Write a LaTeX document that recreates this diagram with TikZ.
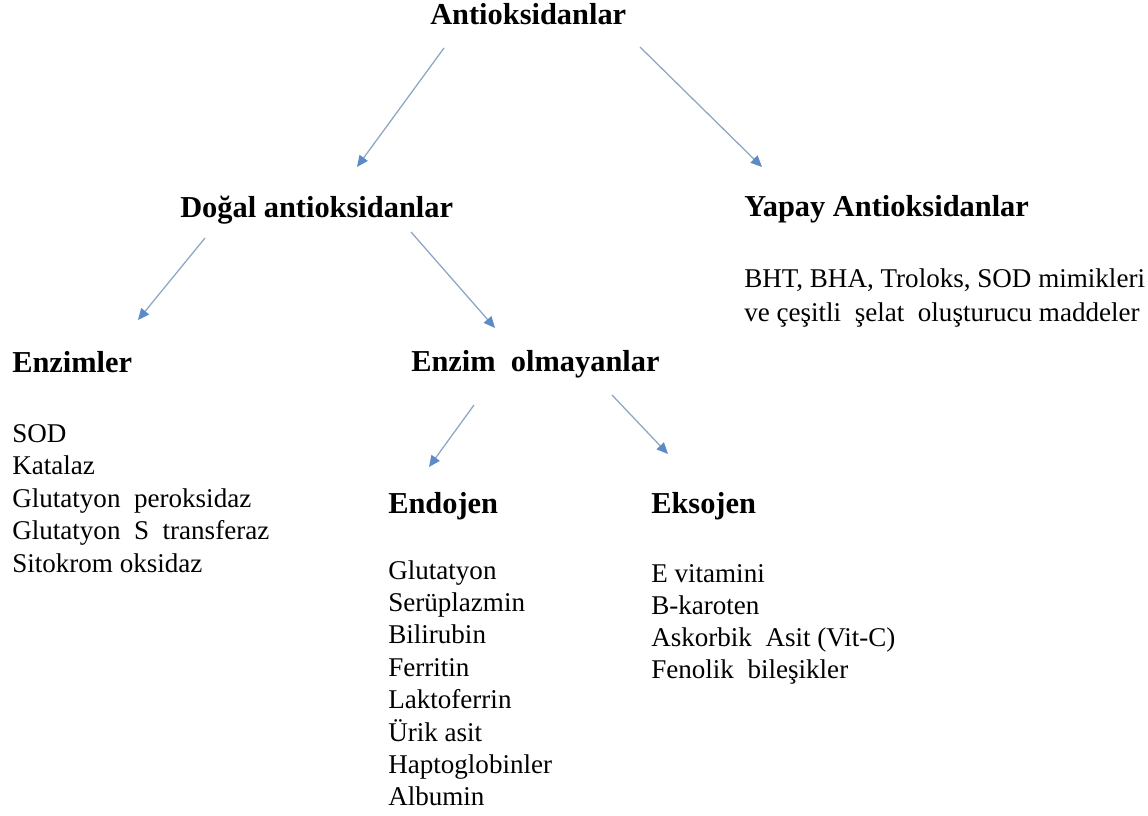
\documentclass[tikz,border=0pt]{standalone}
\usepackage{fontspec}
\setmainfont{Liberation Serif}
\usetikzlibrary{arrows.meta}
\definecolor{arrline}{HTML}{8CA6C6}
\definecolor{arrhead}{HTML}{5B8AC6}
\tikzset{
  head/.style={anchor=base west,inner sep=0pt,font=\fontsize{22.8}{27}\selectfont\bfseries},
  item/.style={anchor=base west,inner sep=0pt,font=\fontsize{20.3}{24}\selectfont},
  arr/.style={draw=arrline,line width=0.95pt,-{Triangle[length=8.5pt,width=7.5pt,color=arrhead]}}
}
\begin{document}
\begin{tikzpicture}[x=0.75pt,y=-0.75pt]
\useasboundingbox (0,0) rectangle (1148,816);
\node[head] (anti) at (430,25) {Antioksidanlar};
\node[head] (dogal) at (180,218) {Doğal antioksidanlar};
\node[head] (yapay) at (744,217) {Yapay Antioksidanlar};
\node[head] (enz) at (12,372) {Enzimler};
\node[head] (enzol) at (411,371) {Enzim\ \ olmayanlar};
\node[head] (endo) at (388,513) {Endojen};
\node[head] (ekso) at (651,513) {Eksojen};
\node[item] (y1) at (744,287) {BHT, BHA, Troloks, SOD mimikleri};
\node[item] (y2) at (744,321) {ve çeşitli\ \ şelat\ \ oluşturucu maddeler};
\foreach \t [count=\i] in {SOD,Katalaz,Glutatyon\ \ peroksidaz,Glutatyon\ \ S\ \ transferaz,Sitokrom oksidaz}
  \node[item] (ez\i) at (12,{442+32.5*(\i-1)}) {\t};
\foreach \t [count=\i] in {Glutatyon,Serüplazmin,Bilirubin,Ferritin,Laktoferrin,Ürik asit,Haptoglobinler,Albumin}
  \node[item] (en\i) at (388,{579+32.4*(\i-1)}) {\t};
\foreach \t [count=\i] in {E vitamini,B-karoten,Askorbik\ \ Asit (Vit-C),Fenolik\ \ bileşikler}
  \node[item] (ek\i) at (651,{582+32.3*(\i-1)}) {\t};
\coordinate (a1s) at (444,48);  \coordinate (a1e) at (357,167);
\coordinate (a2s) at (640,47);  \coordinate (a2e) at (762,167);
\coordinate (a3s) at (205,238); \coordinate (a3e) at (138,320);
\coordinate (a4s) at (411,232); \coordinate (a4e) at (495,328);
\coordinate (a5s) at (474,405); \coordinate (a5e) at (429,467);
\coordinate (a6s) at (612,395); \coordinate (a6e) at (668,454);
\draw[arr] (a1s) -- (a1e);
\draw[arr] (a2s) -- (a2e);
\draw[arr] (a3s) -- (a3e);
\draw[arr] (a4s) -- (a4e);
\draw[arr] (a5s) -- (a5e);
\draw[arr] (a6s) -- (a6e);
\end{tikzpicture}
\end{document}
